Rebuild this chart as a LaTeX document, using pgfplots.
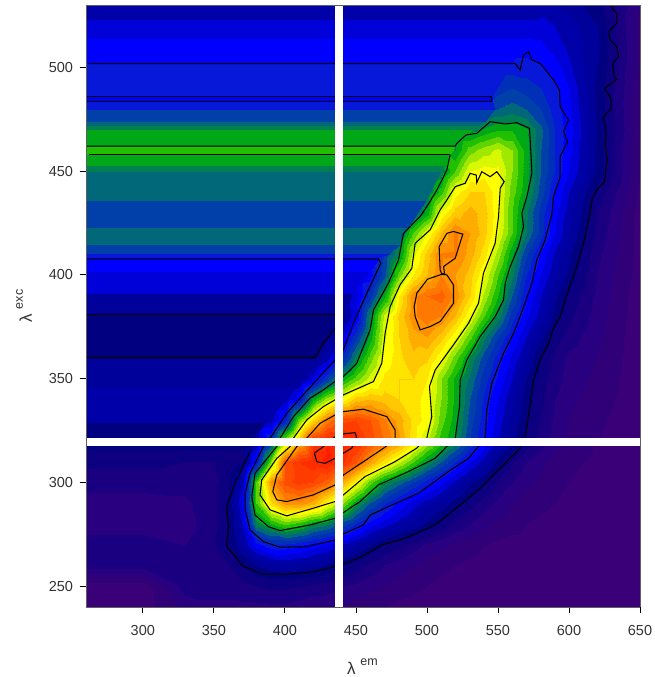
\documentclass[border=0pt]{standalone}
\usepackage{fontspec}
\setmainfont{Liberation Sans}
\usepackage{pgfplots}
\pgfplotsset{compat=1.18}
\begin{document}
\begin{tikzpicture}[x=1pt,y=1pt]
\useasboundingbox (0,0) rectangle (654,677);
\begin{axis}[at={(86pt,70pt)},anchor=south west,scale only axis,width=554pt,height=602pt,
xmin=260,xmax=650,ymin=240,ymax=530,view={0}{90},
xtick={300,350,400,450,500,550,600,650},ytick={250,300,350,400,450,500},
tick align=outside,tick pos=left,major tick length=6pt,
axis line style={line width=1pt,gray!75!black},
tick style={black,line width=.8pt},
/pgf/number format/assume math mode=true,
ticklabel style={font=\fontsize{14.5}{16}\selectfont,color=black!80},
xticklabel style={yshift=-9pt},
yticklabel style={xshift=-3.5pt},
every axis x label/.style={at={(rel axis cs:0.499,0)},anchor=center,yshift=-60pt,color=black!80},
every axis y label/.style={at={(rel axis cs:0,0.5)},anchor=center,xshift=-62pt,rotate=90,color=black!80},
xlabel={\fontsize{17}{18}\selectfont λ \raisebox{9pt}{\fontsize{12.5}{13}\selectfont em}},
ylabel={\fontsize{17}{18}\selectfont λ \raisebox{9pt}{\fontsize{12.5}{13}\selectfont exc}},
colormap={em}{rgb255=(58,0,120) rgb255=(48,0,120) rgb255=(40,0,128) rgb255=(26,0,128) rgb255=(12,0,128) rgb255=(0,0,128) rgb255=(0,0,154) rgb255=(0,0,168) rgb255=(0,0,216) rgb255=(0,0,255) rgb255=(8,24,216) rgb255=(0,48,184) rgb255=(0,64,168) rgb255=(0,104,120) rgb255=(0,128,80) rgb255=(0,168,24) rgb255=(32,192,0) rgb255=(96,212,0) rgb255=(160,232,0) rgb255=(216,248,0) rgb255=(255,255,0) rgb255=(255,228,0) rgb255=(255,200,0) rgb255=(255,172,0) rgb255=(255,144,0) rgb255=(255,120,0) rgb255=(255,96,0) rgb255=(255,76,0) rgb255=(255,60,0) rgb255=(255,44,0) rgb255=(255,28,0)},
colormap access=piecewise constant,
point meta min=0,point meta max=6.2]
\addplot3[surf,shader=interp,mesh/cols=31] coordinates {
(260,530,1.5)(300,530,1.5)(330,530,1.5)(350,530,1.5)(360,530,1.5)(370,530,1.5)(380,530,1.5)(390,530,1.5)(400,530,1.5)(410,530,1.5)(420,530,1.5)(430,530,1.5)(440,530,1.5)(450,530,1.5)(460,530,1.5)(470,530,1.5)(480,530,1.5)(490,530,1.5)(500,530,1.5)(510,530,1.5)(520,530,1.5)(530,530,1.5)(540,530,1.5)(550,530,1.5)(560,530,1.5)(570,530,1.5)(580,530,1.5)(590,530,1.4)(600,530,1.3)(620,530,1.1)(650,530,.4)
(260,520,1.7)(300,520,1.7)(330,520,1.7)(350,520,1.7)(360,520,1.7)(370,520,1.7)(380,520,1.7)(390,520,1.7)(400,520,1.7)(410,520,1.7)(420,520,1.7)(430,520,1.7)(440,520,1.7)(450,520,1.7)(460,520,1.7)(470,520,1.7)(480,520,1.7)(490,520,1.7)(500,520,1.7)(510,520,1.7)(520,520,1.7)(530,520,1.7)(540,520,1.7)(550,520,1.7)(560,520,1.7)(570,520,1.7)(580,520,1.7)(590,520,1.6)(600,520,1.5)(620,520,1.2)(650,520,.3)
(260,510,1.9)(300,510,1.9)(330,510,1.9)(350,510,1.9)(360,510,1.9)(370,510,1.9)(380,510,1.9)(390,510,1.9)(400,510,1.9)(410,510,1.9)(420,510,1.9)(430,510,1.9)(440,510,1.9)(450,510,1.9)(460,510,1.9)(470,510,1.9)(480,510,1.9)(490,510,1.9)(500,510,1.9)(510,510,1.9)(520,510,1.9)(530,510,1.9)(540,510,1.9)(550,510,1.9)(560,510,1.9)(570,510,1.9)(580,510,1.85)(590,510,1.7)(600,510,1.55)(620,510,1.25)(650,510,.3)
(260,500,2.1)(300,500,2.1)(330,500,2.1)(350,500,2.1)(360,500,2.1)(370,500,2.1)(380,500,2.1)(390,500,2.1)(400,500,2.1)(410,500,2.1)(420,500,2.1)(430,500,2.1)(440,500,2.1)(450,500,2.1)(460,500,2.1)(470,500,2.1)(480,500,2.1)(490,500,2.1)(500,500,2.1)(510,500,2.1)(520,500,2.1)(530,500,2.1)(540,500,2.1)(550,500,2.1)(560,500,2.1)(570,500,2.1)(580,500,2.02)(590,500,1.9)(600,500,1.65)(620,500,1.2)(650,500,.3)
(260,490,2.1)(300,490,2.1)(330,490,2.1)(350,490,2.1)(360,490,2.1)(370,490,2.1)(380,490,2.1)(390,490,2.1)(400,490,2.1)(410,490,2.1)(420,490,2.1)(430,490,2.1)(440,490,2.1)(450,490,2.1)(460,490,2.1)(470,490,2.1)(480,490,2.1)(490,490,2.1)(500,490,2.1)(510,490,2.1)(520,490,2.1)(530,490,2.1)(540,490,2.15)(550,490,2.3)(560,490,2.4)(570,490,2.3)(580,490,2.2)(590,490,2.05)(600,490,1.8)(620,490,1.15)(650,490,.25)
(260,480,2.3)(300,480,2.3)(330,480,2.3)(350,480,2.3)(360,480,2.3)(370,480,2.3)(380,480,2.3)(390,480,2.3)(400,480,2.3)(410,480,2.3)(420,480,2.3)(430,480,2.3)(440,480,2.3)(450,480,2.3)(460,480,2.3)(470,480,2.3)(480,480,2.3)(490,480,2.3)(500,480,2.3)(510,480,2.3)(520,480,2.3)(530,480,2.35)(540,480,2.5)(550,480,2.6)(560,480,2.7)(570,480,2.6)(580,480,2.4)(590,480,2.1)(600,480,1.85)(620,480,1.15)(650,480,.25)
(260,470,2.9)(300,470,2.9)(330,470,2.9)(350,470,2.9)(360,470,2.9)(370,470,2.9)(380,470,2.9)(390,470,2.9)(400,470,2.9)(410,470,2.9)(420,470,2.9)(430,470,2.9)(440,470,2.9)(450,470,2.9)(460,470,2.9)(470,470,2.9)(480,470,2.9)(490,470,2.9)(500,470,2.9)(510,470,2.9)(520,470,2.9)(530,470,2.9)(540,470,3.05)(550,470,3.2)(560,470,3.2)(570,470,3.05)(580,470,2.65)(590,470,2.2)(600,470,1.9)(620,470,1.2)(650,470,.25)
(260,460,3.2)(300,460,3.2)(330,460,3.2)(350,460,3.2)(360,460,3.2)(370,460,3.2)(380,460,3.2)(390,460,3.2)(400,460,3.2)(410,460,3.2)(420,460,3.2)(430,460,3.2)(440,460,3.2)(450,460,3.2)(460,460,3.2)(470,460,3.2)(480,460,3.2)(490,460,3.2)(500,460,3.2)(510,460,3.2)(520,460,3.0)(530,460,3.5)(540,460,3.7)(550,460,3.85)(560,460,3.6)(570,460,3.1)(580,460,2.6)(590,460,2.2)(600,460,1.85)(620,460,1.15)(650,460,.2)
(260,450,2.7)(300,450,2.7)(330,450,2.7)(350,450,2.7)(360,450,2.7)(370,450,2.7)(380,450,2.7)(390,450,2.7)(400,450,2.7)(410,450,2.7)(420,450,2.7)(430,450,2.7)(440,450,2.7)(450,450,2.7)(460,450,2.7)(470,450,2.7)(480,450,2.7)(490,450,2.7)(500,450,2.7)(510,450,2.85)(520,450,3.4)(530,450,4)(540,450,4.1)(550,450,4.05)(560,450,3.6)(570,450,3.1)(580,450,2.6)(590,450,2.2)(600,450,1.8)(620,450,1.15)(650,450,.2)
(260,440,2.7)(300,440,2.7)(330,440,2.7)(350,440,2.7)(360,440,2.7)(370,440,2.7)(380,440,2.7)(390,440,2.7)(400,440,2.7)(410,440,2.7)(420,440,2.7)(430,440,2.7)(440,440,2.7)(450,440,2.7)(460,440,2.7)(470,440,2.7)(480,440,2.7)(490,440,2.7)(500,440,2.8)(510,440,3.3)(520,440,4.1)(530,440,4.4)(540,440,4.4)(550,440,4.05)(560,440,3.5)(570,440,3.05)(580,440,2.5)(590,440,2)(600,440,1.6)(620,440,.95)(650,440,.15)
(260,430,2.5)(300,430,2.5)(330,430,2.5)(350,430,2.5)(360,430,2.5)(370,430,2.5)(380,430,2.5)(390,430,2.5)(400,430,2.5)(410,430,2.5)(420,430,2.5)(430,430,2.5)(440,430,2.5)(450,430,2.5)(460,430,2.5)(470,430,2.5)(480,430,2.5)(490,430,2.6)(500,430,3.1)(510,430,4.05)(520,430,4.5)(530,430,4.7)(540,430,4.5)(550,430,4.05)(560,430,3.4)(570,430,2.85)(580,430,2.3)(590,430,1.85)(600,430,1.5)(620,430,.8)(650,430,.1)
(260,420,2.7)(300,420,2.7)(330,420,2.7)(350,420,2.7)(360,420,2.7)(370,420,2.7)(380,420,2.7)(390,420,2.7)(400,420,2.7)(410,420,2.7)(420,420,2.7)(430,420,2.7)(440,420,2.7)(450,420,2.7)(460,420,2.7)(470,420,2.7)(480,420,2.75)(490,420,3.4)(500,420,4)(510,420,4.6)(520,420,5.05)(530,420,4.8)(540,420,4.5)(550,420,4)(560,420,3.4)(570,420,2.8)(580,420,2.3)(590,420,1.8)(600,420,1.4)(620,420,.75)(650,420,.1)
(260,410,2.1)(300,410,2.1)(330,410,2.1)(350,410,2.1)(360,410,2.1)(370,410,2.1)(380,410,2.1)(390,410,2.1)(400,410,2.1)(410,410,2.1)(420,410,2.1)(430,410,2.1)(440,410,2.1)(450,410,2.1)(460,410,2.1)(470,410,2.4)(480,410,2.95)(490,410,3.9)(500,410,4.5)(510,410,5.03)(520,410,5.05)(530,410,4.7)(540,410,4.3)(550,410,3.7)(560,410,3.05)(570,410,2.45)(580,410,1.95)(590,410,1.55)(600,410,1.25)(620,410,.65)(650,410,.1)
(260,400,1.7)(300,400,1.7)(330,400,1.7)(350,400,1.7)(360,400,1.7)(370,400,1.7)(380,400,1.7)(390,400,1.7)(400,400,1.7)(410,400,1.7)(420,400,1.7)(430,400,1.7)(440,400,1.7)(450,400,1.8)(460,400,1.9)(470,400,2.5)(480,400,3.5)(490,400,4.2)(500,400,4.6)(510,400,5)(520,400,4.8)(530,400,4.5)(540,400,4)(550,400,3.4)(560,400,2.85)(570,400,2.2)(580,400,1.8)(590,400,1.45)(600,400,1.15)(620,400,.6)(650,400,.1)
(260,390,1.3)(300,390,1.3)(330,390,1.3)(350,390,1.3)(360,390,1.3)(370,390,1.3)(380,390,1.3)(390,390,1.3)(400,390,1.3)(410,390,1.3)(420,390,1.3)(430,390,1.3)(440,390,1.4)(450,390,1.7)(460,390,2.3)(470,390,3.1)(480,390,4.2)(490,390,4.95)(500,390,5.2)(510,390,5.3)(520,390,4.95)(530,390,4.4)(540,390,3.75)(550,390,3.2)(560,390,2.6)(570,390,2)(580,390,1.6)(590,390,1.25)(600,390,.95)(620,390,.55)(650,390,.05)
(260,380,1.1)(300,380,1.1)(330,380,1.1)(350,380,1.1)(360,380,1.1)(370,380,1.1)(380,380,1.1)(390,380,1.1)(400,380,1.1)(410,380,1.1)(420,380,1.1)(430,380,1.1)(440,380,1.2)(450,380,1.8)(460,380,2.9)(470,380,3.85)(480,380,4.45)(490,380,4.95)(500,380,5.15)(510,380,5)(520,380,4.6)(530,380,4)(540,380,3.4)(550,380,2.9)(560,380,2.3)(570,380,1.85)(580,380,1.5)(590,380,1.1)(600,380,.85)(620,380,.5)(650,380,.05)
(260,370,1.1)(300,370,1.1)(330,370,1.1)(350,370,1.1)(360,370,1.1)(370,370,1.1)(380,370,1.1)(390,370,1.1)(400,370,1.1)(410,370,1.1)(420,370,1.1)(430,370,1.1)(440,370,1.7)(450,370,2.35)(460,370,3.1)(470,370,3.95)(480,370,4.4)(490,370,4.7)(500,370,4.8)(510,370,4.5)(520,370,4.05)(530,370,3.45)(540,370,2.85)(550,370,2.4)(560,370,2)(570,370,1.6)(580,370,1.25)(590,370,.9)(600,370,.7)(620,370,.45)(650,370,.05)
(260,360,1.1)(300,360,1.1)(330,360,1.1)(350,360,1.1)(360,360,1.1)(370,360,1.1)(380,360,1.1)(390,360,1.1)(400,360,1.1)(410,360,1.1)(420,360,1.1)(430,360,1.5)(440,360,2.2)(450,360,2.9)(460,360,3.5)(470,360,4.05)(480,360,4.35)(490,360,4.55)(500,360,4.45)(510,360,4.05)(520,360,3.5)(530,360,2.95)(540,360,2.5)(550,360,2.1)(560,360,1.75)(570,360,1.4)(580,360,1)(590,360,.75)(600,360,.55)(620,360,.4)(650,360,.05)
(260,350,1.3)(300,350,1.3)(330,350,1.3)(350,350,1.3)(360,350,1.3)(370,350,1.3)(380,350,1.3)(390,350,1.3)(400,350,1.3)(410,350,1.3)(420,350,1.75)(430,350,2.4)(440,350,3.1)(450,350,3.5)(460,350,3.9)(470,350,4.25)(480,350,4.4)(490,350,4.4)(500,350,4.2)(510,350,3.6)(520,350,3.15)(530,350,2.75)(540,350,2.3)(550,350,1.95)(560,350,1.6)(570,350,1.2)(580,350,.9)(590,350,.7)(600,350,.5)(620,350,.35)(650,350,.05)
(260,340,1.5)(300,340,1.5)(330,340,1.5)(350,340,1.5)(360,340,1.5)(370,340,1.5)(380,340,1.5)(390,340,1.5)(400,340,1.5)(410,340,1.95)(420,340,3.1)(430,340,3.7)(440,340,4.05)(450,340,4.5)(460,340,4.6)(470,340,4.5)(480,340,4.4)(490,340,4.3)(500,340,4.1)(510,340,3.6)(520,340,3.15)(530,340,2.6)(540,340,2.15)(550,340,1.8)(560,340,1.45)(570,340,1.1)(580,340,.85)(590,340,.6)(600,340,.45)(620,340,.3)(650,340,.05)
(260,330,1.5)(300,330,1.5)(330,330,1.5)(350,330,1.5)(360,330,1.5)(370,330,1.5)(380,330,1.5)(390,330,1.5)(400,330,2.1)(410,330,3.5)(420,330,4.35)(430,330,5.05)(440,330,5.55)(450,330,5.6)(460,330,5.4)(470,330,5.05)(480,330,4.7)(490,330,4.35)(500,330,4.1)(510,330,3.5)(520,330,3.1)(530,330,2.5)(540,330,2.1)(550,330,1.7)(560,330,1.35)(570,330,1.05)(580,330,.8)(590,330,.55)(600,330,.4)(620,330,.25)(650,330,.03)
(260,320,1)(300,320,1)(330,320,1)(350,320,1)(360,320,1)(370,320,1)(380,320,1.4)(390,320,2.3)(400,320,3.7)(410,320,4.6)(420,320,5.75)(430,320,6)(440,320,6.1)(450,320,5.95)(460,320,5.5)(470,320,5.2)(480,320,4.85)(490,320,4.3)(500,320,3.8)(510,320,3.3)(520,320,2.95)(530,320,2.4)(540,320,1.95)(550,320,1.6)(560,320,1.25)(570,320,.95)(580,320,.7)(590,320,.5)(600,320,.35)(620,320,.2)(650,320,.02)
(260,310,.85)(300,310,.85)(330,310,.8)(350,310,.8)(360,310,.85)(370,310,.98)(380,310,2.05)(390,310,3.6)(400,310,5.4)(410,310,5.8)(420,310,5.95)(430,310,6.05)(440,310,5.9)(450,310,5.4)(460,310,4.8)(470,310,4.3)(480,310,3.85)(490,310,3.4)(500,310,2.95)(510,310,2.6)(520,310,2.2)(530,310,1.8)(540,310,1.5)(550,310,1.1)(560,310,.8)(570,310,.6)(580,310,.45)(590,310,.3)(600,310,.25)(620,310,.15)(650,310,.02)
(260,300,.7)(300,300,.7)(330,300,.7)(350,300,.75)(360,300,.9)(370,300,1.5)(380,300,3.4)(390,300,4.9)(400,300,5.5)(410,300,5.7)(420,300,5.6)(430,300,5.3)(440,300,4.75)(450,300,4.15)(460,300,3.5)(470,300,3)(480,300,2.7)(490,300,2.4)(500,300,2.1)(510,300,1.85)(520,300,1.55)(530,300,1.25)(540,300,1.05)(550,300,.75)(560,300,.6)(570,300,.45)(580,300,.35)(590,300,.25)(600,300,.2)(620,300,.1)(650,300,.01)
(260,290,.5)(300,290,.5)(330,290,.55)(350,290,.75)(360,290,1.05)(370,290,1.8)(380,290,3.4)(390,290,4.35)(400,290,4.9)(410,290,4.95)(420,290,4.7)(430,290,4.15)(440,290,3.65)(450,290,3.05)(460,290,2.6)(470,290,2.25)(480,290,1.95)(490,290,1.7)(500,290,1.5)(510,290,1.35)(520,290,1.1)(530,290,.9)(540,290,.7)(550,290,.55)(560,290,.4)(570,290,.3)(580,290,.25)(590,290,.2)(600,290,.15)(620,290,.05)(650,290,.01)
(260,280,.5)(300,280,.5)(330,280,.5)(350,280,.75)(360,280,1)(370,280,1.6)(380,280,2.9)(390,280,3.2)(400,280,3.45)(410,280,3.3)(420,280,3)(430,280,2.85)(440,280,2.5)(450,280,2.2)(460,280,1.9)(470,280,1.7)(480,280,1.5)(490,280,1.35)(500,280,1.15)(510,280,.95)(520,280,.75)(530,280,.6)(540,280,.45)(550,280,.35)(560,280,.3)(570,280,.2)(580,280,.15)(590,280,.12)(600,280,.1)(620,280,.05)(650,280,.01)
(260,270,.7)(300,270,.7)(330,270,.6)(350,270,.8)(360,270,1)(370,270,1.4)(380,270,1.9)(390,270,2.15)(400,270,2.15)(410,270,2.05)(420,270,1.9)(430,270,1.8)(440,270,1.6)(450,270,1.4)(460,270,1.2)(470,270,.98)(480,270,.85)(490,270,.7)(500,270,.55)(510,270,.45)(520,270,.35)(530,270,.3)(540,270,.2)(550,270,.15)(560,270,.1)(570,270,.1)(580,270,.08)(590,270,.05)(600,270,.05)(620,270,.02)(650,270,.01)
(260,260,.7)(300,260,.7)(330,260,.7)(350,260,.75)(360,260,.8)(370,260,.98)(380,260,1.2)(390,260,1.35)(400,260,1.4)(410,260,1.35)(420,260,1.3)(430,260,1.2)(440,260,1.02)(450,260,.9)(460,260,.75)(470,260,.6)(480,260,.5)(490,260,.4)(500,260,.3)(510,260,.25)(520,260,.2)(530,260,.15)(540,260,.1)(550,260,.08)(560,260,.05)(570,260,.05)(580,260,.05)(590,260,.03)(600,260,.02)(620,260,.02)(650,260,.01)
(260,250,.1)(300,250,.1)(330,250,.7)(350,250,.7)(360,250,.7)(370,250,.75)(380,250,.8)(390,250,.85)(400,250,.85)(410,250,.8)(420,250,.75)(430,250,.7)(440,250,.6)(450,250,.55)(460,250,.45)(470,250,.4)(480,250,.3)(490,250,.25)(500,250,.2)(510,250,.15)(520,250,.1)(530,250,.1)(540,250,.08)(550,250,.05)(560,250,.05)(570,250,.05)(580,250,.03)(590,250,.02)(600,250,.02)(620,250,.01)(650,250,.01)
(260,240,.1)(300,240,.1)(330,240,.5)(350,240,.55)(360,240,.55)(370,240,.55)(380,240,.55)(390,240,.55)(400,240,.55)(410,240,.5)(420,240,.45)(430,240,.45)(440,240,.4)(450,240,.3)(460,240,.25)(470,240,.2)(480,240,.15)(490,240,.12)(500,240,.1)(510,240,.08)(520,240,.05)(530,240,.05)(540,240,.05)(550,240,.03)(560,240,.03)(570,240,.02)(580,240,.02)(590,240,.02)(600,240,.01)(620,240,.01)(650,240,.01)
};
% horizontal bands of the left part
\addplot3[surf,shader=interp,mesh/cols=2] coordinates {
(260,530,1.5)(584,530,1.5)
(260,523.05,1.5)(578,523.05,1.5)
(260,522.95,1.7)(578,522.95,1.7)
(260,514.05,1.7)(570,514.05,1.7)
(260,513.95,1.9)(570,513.95,1.9)
(260,502.05,1.9)(560,502.05,1.9)
(260,501.95,2.1)(560,501.95,2.1)
(260,486.05,2.1)(546,486.05,2.1)
(260,485.95,1.9)(546,485.95,1.9)
(260,484.05,1.9)(546,484.05,1.9)
(260,483.95,2.1)(546,483.95,2.1)
(260,480.05,2.1)(547,480.05,2.1)
(260,479.95,2.5)(547,479.95,2.5)
(260,474.05,2.5)(541,474.05,2.5)
(260,473.95,2.7)(541,473.95,2.7)
(260,472.05,2.7)(537,472.05,2.7)
(260,471.95,2.9)(537,471.95,2.9)
(260,470.05,2.9)(532,470.05,2.9)
(260,469.95,3.1)(532,469.95,3.1)
(260,462.05,3.1)(520,462.05,3.1)
(260,461.95,3.3)(520,461.95,3.3)
(260,458.05,3.3)(516,458.05,3.3)
(260,457.95,3.1)(516,457.95,3.1)
(260,453.05,3.1)(513,453.05,3.1)
(260,452.95,2.9)(513,452.95,2.9)
(260,450.05,2.9)(509,450.05,2.9)
(260,449.95,2.7)(509,449.95,2.7)
(260,436.05,2.7)(499,436.05,2.7)
(260,435.95,2.5)(499,435.95,2.5)
(260,423.05,2.5)(487,423.05,2.5)
(260,422.95,2.7)(487,422.95,2.7)
(260,414.65,2.7)(480,414.65,2.7)
(260,414.55,2.5)(480,414.55,2.5)
(260,410.55,2.5)(474,410.55,2.5)
(260,410.45,2.1)(474,410.45,2.1)
(260,408.05,2.1)(466,408.05,2.1)
(260,407.95,1.9)(466,407.95,1.9)
(260,402.05,1.9)(460,402.05,1.9)
(260,401.95,1.7)(460,401.95,1.7)
(260,391.05,1.7)(447,391.05,1.7)
(260,390.95,1.3)(447,390.95,1.3)
(260,381.05,1.3)(438,381.05,1.3)
(260,380.95,1.1)(438,380.95,1.1)
(260,360.05,1.1)(422,360.05,1.1)
(260,359.95,1.3)(422,359.95,1.3)
(260,346.05,1.3)(408,346.05,1.3)
(260,345.95,1.5)(408,345.95,1.5)
(260,329.05,1.5)(387,329.05,1.5)
(260,328.95,1.1)(387,328.95,1.1)
(260,321,1.1)(376,321,1.1)
(260,316,1.1)(372,316,1.1)
};
\tikzset{cl/.style={black,line width=1.05pt,no markers}}
% outermost contour
\addplot[cl] coordinates {(629.5,530)(629.5,529.2)(633.7,526)(633.7,521.2)(627.8,517.1)(629,513.1)(633.7,509.9)(634.9,505.1)(630.9,501.9)(631.4,496.3)(633.7,494.2)(625,489.8)(629.5,485)(629.7,480.2)(624.3,476.2)(626.2,468.2)(625.5,463.3)(626.7,455.3)(625,444.9)(619.6,440.9)(616.1,436)(614.5,428)(611.4,418.5)(605.5,404)(599.7,392.8)(593.8,379.9)(589.1,374.3)(585.6,367)(579.7,359)(575,349.4)(573.2,339.8)(570.3,326.9)(569.2,321.3)(565.6,316.5)(552.7,307.6)(536.2,296.4)(522.1,288.4)(505.7,279.5)(484.6,273.1)(468.2,269.9)(454.1,264.3)(441.2,260.6)(435.3,259.5)(420.1,257)(401.3,255.8)(384.9,255.8)(370.8,259.5)(359.1,269.1)(360.2,278.7)(359.1,288.4)(364.9,299.6)(375.5,314.9)(375.5,317.3)};
% closed contour of the dark band
\addplot[cl] coordinates {(260,381)(435,381)(438,378)(435.3,374.3)(427.1,367)(421.3,360.2)(260,360.2)};
% second contour
\addplot[cl] coordinates {(262,501.8)(562.1,501.8)(565.6,498.7)(568,505.9)(571.5,507.5)(573.9,503.5)(579.7,501.9)(589.1,493.9)(593.3,489)(593.8,481)(599.7,474.6)(596.1,469)(599,464.2)(593.8,456.9)(593.8,447.3)(589.1,437.6)(587.9,428.9)(583.2,416.8)(577.4,407.2)(573.9,396)(565.6,379.9)(561,371.9)(553.9,362.2)(545.7,347.8)(542.2,335)(541,321.3)(536.2,317.3)(529.2,311.6)(515.1,305.2)(494,294.8)(470.5,287.6)(460,284.3)(455.2,279.5)(441.2,275.2)(435.3,272.3)(415.4,269.1)(396.6,268.8)(384.9,271.5)(375.5,277.1)(372,286.8)(372,294.8)(375.5,304.4)(384.9,317.3)(389.6,321.3)(401.3,333.3)(411.9,341.4)(422.4,349.4)(435.3,359)(441.2,363.8)(448.3,376.7)(457.7,391.2)(467.5,405.6)(465.9,407.7)(260,407.7)};
\addplot[cl] coordinates {(260,485.8)(545.7,485.8)(545.7,483.7)(260,483.7)};
% third contour
\addplot[cl] coordinates {(260,462)(519.9,462)(521,463.3)(527.6,467.4)(535.1,468.2)(544.5,473.8)(555.1,472.7)(563.3,473.3)(572.2,470.6)(573.1,460.1)(573.9,448.9)(570.3,437.6)(566.8,429.7)(568,423.3)(564.5,413.6)(558.6,404)(555.1,396)(553.9,387.9)(548,379.9)(537.5,370.3)(528.1,359)(523.4,349.4)(522.9,336.5)(521,326.9)(519.9,321.3)(513.9,317.3)(505.7,311.6)(486.9,305.2)(465.8,298.8)(452.9,290.8)(441.2,285.5)(435.3,282.7)(417.7,279.5)(396.6,276.8)(388.4,278.7)(379,284.3)(376.7,293.2)(379,304.4)(394.3,317.3)(396.6,321.3)(406,331.7)(417.7,340.6)(427.1,344.6)(435.3,348.6)(441.2,351)(450.6,357.4)(460,373.5)(462.4,383.1)(472.9,396)(480,407.2)(483.5,420)(495.2,428.1)(499.9,432.8)(507,440.9)(514,450.5)(516.4,458)};
\addplot[cl] coordinates {(516.4,458)(262,458)};
% fourth contour
\addplot[cl] coordinates {(509.3,431.3)(514,436)(519.9,442.5)(526.9,444.1)(530.4,448.9)(534.7,448.1)(535.1,444.4)(538.6,449.7)(544.5,447.3)(549.2,449.7)(554.4,444.9)(551.6,441.7)(550.4,428)(548,415.2)(539.8,400.8)(536.3,386.3)(529.3,376.7)(518.7,366.3)(505.8,354.2)(501.8,346.2)(503.4,331.7)(499.9,321.3)(492.8,316.5)(477.5,310)(456.4,302.8)(441.2,294)(435.3,290.8)(420.1,287.6)(401.3,283.9)(389.6,286.8)(382.5,294)(383.7,301.2)(394.3,311.6)(403.7,317.3)(406,321.3)(415.4,330.1)(427.1,336.5)(435.3,339.8)(441.2,342.2)(462.4,348.6)(468.2,357.4)(470.6,371.9)(474.1,384.7)(481.1,395.2)(489.4,403.2)(491.7,415.2)(502.3,421.7)(509.3,431.3)};
% fifth contour
\addplot[cl] coordinates {(441.2,334.1)(455.3,335.3)(471.8,331.7)(477.6,325.3)(477.6,321.3)(470.5,317)(458.8,311.6)(441.2,303.6)(435.3,298.8)(420.1,294)(401.3,290.8)(394.3,291.6)(391.5,295.6)(394.3,303.6)(408.4,317.3)(415.4,321.3)(424.8,328.5)(435.3,332.5)(441.2,334.1)};
\addplot[cl] coordinates {(514,420)(518.7,420.9)(525.3,419.6)(521,410.4)(519.9,408)(511.7,404)(512.4,400.8)(510.5,400.3)(509.3,402.4)(508.6,413.6)(514,420)};
\addplot[cl] coordinates {(510.5,400.3)(514,400)(518.7,395.2)(518.7,386.3)(509.3,377.5)(502.3,375.1)(495.2,373.5)(491.7,379.9)(491,384.7)(492.9,391.2)(500.4,397.9)(510.5,400.3)};
% sixth contour
\addplot[cl] coordinates {(441.2,323.4)(449.4,324)(450.6,321.3)(447,316.5)(441.2,314.1)(435.3,311.6)(428.3,309.2)(422.4,310)(420.8,314.1)(427.1,317.3)(435.3,322)(441.2,323.4)};
% the two white bars
\addplot[white,line width=8pt,no markers] coordinates {(438.1,240)(438.1,530)};
\addplot[white,line width=8pt,no markers] coordinates {(260,319.5)(650,319.5)};
\end{axis}
\end{tikzpicture}
\end{document}
